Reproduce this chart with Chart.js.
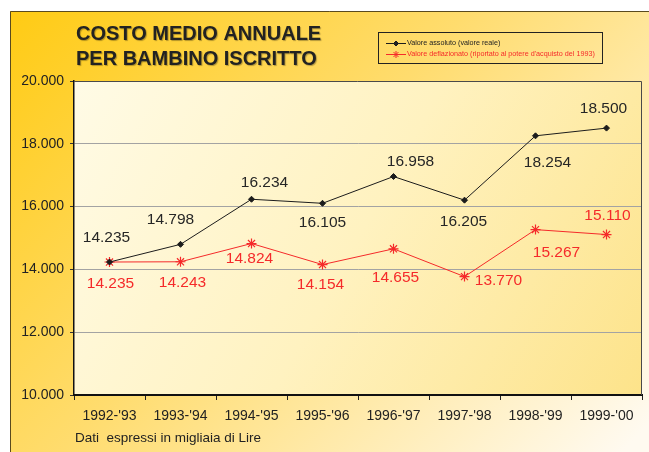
<!DOCTYPE html>
<html>
<head>
<meta charset="utf-8">
<script src="https://cdn.jsdelivr.net/npm/chart.js@4.4.1/dist/chart.umd.min.js"></script>
<style>
  html, body { margin: 0; padding: 0; background: #fff; }
  #wrap { width: 649px; height: 452px; position: relative; }
</style>
</head>
<body>
<div id="wrap"><canvas id="c" width="649" height="452"></canvas></div>
<script>
// ---- data ----
const categories = ["1992-'93", "1993-'94", "1994-'95", "1995-'96", "1996-'97", "1997-'98", "1998-'99", "1999-'00"];
const valoreAssoluto = [14235, 14798, 16234, 16105, 16958, 16205, 18254, 18500];
const valoreDeflazionato = [14235, 14243, 14824, 14154, 14655, 13770, 15267, 15110];
const yTicks = [10000, 12000, 14000, 16000, 18000, 20000];
const seriesNames = ["Valore assoluto (valore reale)", "Valore deflazionato (riportato al potere d'acquisto del 1993)"];
const titleLines = ["COSTO MEDIO ANNUALE", "PER BAMBINO ISCRITTO"];
const footnote = "Dati  espressi in migliaia di Lire";

// ---- styling ----
const FONT = "'Liberation Sans', Arial, Helvetica, sans-serif";
const BLACK = '#1c1c1c';
const RED = '#f52a2a';
const fmt = v => String(Math.round(v)).replace(/\B(?=(\d{3})+(?!\d))/g, '.');

// label offsets (pixel placement of value labels relative to their points)
const labelOffsets = [
  [[-3,-24],[-10,-25],[13,-17],[0,19],[17,-15],[-1,22],[12,27],[-3,-19]],
  [[1,22],[2,21],[-2,15],[-2,20],[2,29],[34,4],[21,23],[1,-19]]
];

const decor = {
  id: 'decor',
  beforeDraw(chart) {
    const ctx = chart.ctx, W = chart.width, H = chart.height;
    const a = chart.chartArea;
    ctx.save();
    ctx.fillStyle = '#fff';
    ctx.fillRect(0, 0, W, H);
    // outer frame gradient
    const g = ctx.createLinearGradient(10, 11, 560, 520);
    g.addColorStop(0, '#ffcb14');
    g.addColorStop(0.45, '#ffdc6e');
    g.addColorStop(1, '#fffaf0');
    ctx.fillStyle = g;
    ctx.fillRect(10, 11, W - 10, H - 11);
    ctx.strokeStyle = '#5a4a1e';
    ctx.lineWidth = 1;
    ctx.beginPath();
    ctx.moveTo(10.5, H);
    ctx.lineTo(10.5, 11.5);
    ctx.lineTo(W, 11.5);
    ctx.stroke();
    // plot area gradient
    const pg = ctx.createLinearGradient(a.left, a.top, a.right, a.bottom);
    pg.addColorStop(0, '#fffbe6');
    pg.addColorStop(0.5, '#fff2c0');
    pg.addColorStop(1, '#fde38a');
    ctx.fillStyle = pg;
    ctx.fillRect(a.left, a.top, a.right - a.left, a.bottom - a.top);
    ctx.restore();
  },
  afterDraw(chart) {
    const ctx = chart.ctx;
    const a = chart.chartArea;
    ctx.save();
    // top & right plot border
    ctx.strokeStyle = '#4a4a4a';
    ctx.lineWidth = 1;
    ctx.beginPath();
    ctx.moveTo(a.left, a.top + 0.5);
    ctx.lineTo(a.right - 0.5, a.top + 0.5);
    ctx.lineTo(a.right - 0.5, a.bottom);
    ctx.stroke();

    // value labels
    ctx.font = '15.5px ' + FONT;
    ctx.textAlign = 'center';
    ctx.textBaseline = 'middle';
    chart.data.datasets.forEach((ds, di) => {
      const meta = chart.getDatasetMeta(di);
      ctx.fillStyle = di === 0 ? '#262626' : RED;
      meta.data.forEach((pt, i) => {
        const o = labelOffsets[di][i];
        ctx.fillText(fmt(ds.data[i]), pt.x + o[0], pt.y + o[1]);
      });
    });

    // title
    ctx.font = 'bold 20px ' + FONT;
    ctx.textAlign = 'left';
    ctx.textBaseline = 'middle';
    ctx.fillStyle = '#222';
    ctx.shadowColor = 'rgba(0,0,0,0.3)';
    ctx.shadowOffsetX = 1;
    ctx.shadowOffsetY = 1;
    ctx.shadowBlur = 1;
    ctx.fillText(titleLines[0], 76, 34);
    ctx.fillText(titleLines[1], 76, 59);
    ctx.shadowColor = 'transparent';

    // footnote
    ctx.font = '13.5px ' + FONT;
    ctx.fillStyle = '#222';
    ctx.fillText(footnote, 75, 438);

    // legend
    ctx.strokeStyle = '#222';
    ctx.lineWidth = 1;
    ctx.strokeRect(378.5, 32.5, 224, 31);
    ctx.font = '7.2px ' + FONT;
    const rows = [43, 54];
    chart.data.datasets.forEach((ds, di) => {
      const y = rows[di];
      ctx.strokeStyle = ds.borderColor;
      ctx.lineWidth = 1;
      ctx.beginPath();
      ctx.moveTo(386, y + 0.5);
      ctx.lineTo(406, y + 0.5);
      ctx.stroke();
      Chart.helpers.drawPoint(ctx, {
        pointStyle: ds.pointStyle, radius: di === 0 ? 2.5 : 3.5, borderWidth: 1
      }, 396, y + 0.5);
      ctx.fillStyle = di === 0 ? '#222' : RED;
      ctx.fillText(ds.label, 407, y + 0.5);
    });
    ctx.restore();
  }
};

// set fill/stroke for legend point drawing
const origDrawPoint = null;

const chart = new Chart(document.getElementById('c'), {
  type: 'line',
  data: {
    labels: categories,
    datasets: [
      {
        label: seriesNames[0],
        data: valoreAssoluto,
        borderColor: BLACK,
        backgroundColor: BLACK,
        borderWidth: 1,
        pointStyle: 'rectRot',
        pointRadius: 3,
        pointBorderWidth: 1,
        pointBackgroundColor: BLACK,
        pointBorderColor: BLACK,
        tension: 0
      },
      {
        label: seriesNames[1],
        data: valoreDeflazionato,
        borderColor: RED,
        backgroundColor: RED,
        borderWidth: 1,
        pointStyle: 'star',
        pointRadius: 5,
        pointBorderWidth: 1.2,
        pointBackgroundColor: RED,
        pointBorderColor: RED,
        tension: 0
      }
    ]
  },
  options: {
    responsive: false,
    animation: false,
    devicePixelRatio: 1,
    layout: { padding: { left: 0, top: 81, right: 7, bottom: 0 } },
    plugins: {
      legend: { display: false },
      title: { display: false },
      tooltip: { enabled: false }
    },
    scales: {
      x: {
        offset: true,
        afterFit(s) { s.height = 57; },
        grid: {
          offset: true,
          drawOnChartArea: false,
          drawTicks: true,
          tickLength: 5,
          tickColor: '#222'
        },
        border: { display: true, color: '#111', width: 2 },
        ticks: {
          color: '#222',
          font: { family: FONT, size: 14 },
          padding: 8,
          maxRotation: 0,
          autoSkip: false
        }
      },
      y: {
        min: yTicks[0],
        max: yTicks[yTicks.length - 1],
        afterFit(s) { s.width = 74; },
        afterBuildTicks(s) { s.ticks = yTicks.map(v => ({ value: v })); },
        grid: {
          color: ctx => (ctx.tick && (ctx.tick.value === yTicks[0] || ctx.tick.value === yTicks[yTicks.length - 1])) ? 'rgba(0,0,0,0)' : '#a3a3a3',
          lineWidth: 1,
          tickLength: 4,
          tickColor: '#333'
        },
        border: { display: true, color: '#111', width: 1.5 },
        ticks: {
          color: '#222',
          font: { family: FONT, size: 14 },
          padding: 6,
          callback: v => fmt(v)
        }
      }
    }
  },
  plugins: [decor]
});
</script>
</body>
</html>
